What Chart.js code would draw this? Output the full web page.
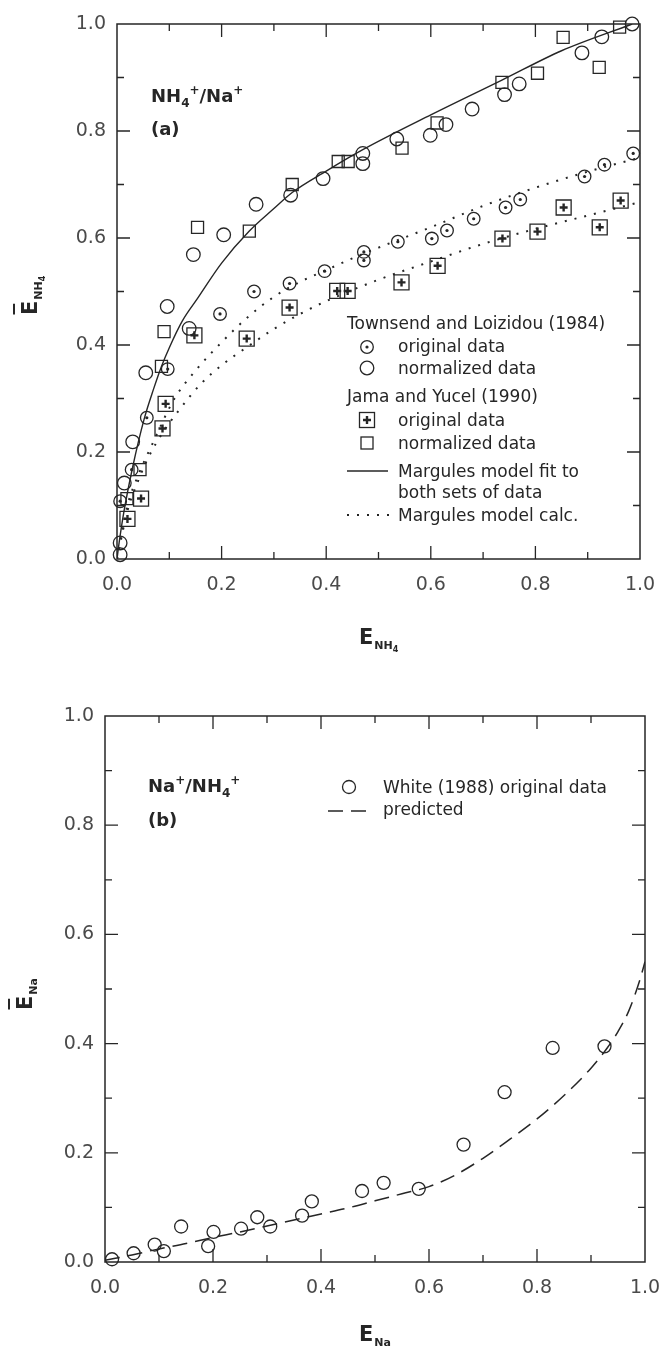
<!DOCTYPE html>
<html>
<head>
<meta charset="utf-8">
<title>NH4+/Na+ exchange isotherms</title>
<script src="https://cdn.jsdelivr.net/npm/chart.js@4.4.1/dist/chart.umd.min.js"></script>
<style>
    html, body { margin: 0; padding: 0; background: #fff; }
    #wrap { position: relative; width: 660px; height: 1349px; }
    canvas { position: absolute; left: 0; }
    #chartA { top: 0; }
    #chartB { top: 660px; }
</style>
</head>
<body>
<div id="wrap">
    <canvas id="chartA" width="660" height="660"></canvas>
    <canvas id="chartB" width="660" height="689"></canvas>
</div>
<script>
// Panel (a): NH4+/Na+
// Townsend and Loizidou (1984)
const townOrigX = [0.006, 0.028, 0.057, 0.097, 0.197, 0.262, 0.330, 0.397, 0.472, 0.472, 0.537, 0.602, 0.631, 0.682, 0.743, 0.771, 0.894, 0.932, 0.987];
const townOrigY = [0.108, 0.167, 0.264, 0.355, 0.458, 0.500, 0.515, 0.538, 0.574, 0.558, 0.593, 0.599, 0.614, 0.636, 0.657, 0.672, 0.715, 0.737, 0.758];
const townNormX = [0.006, 0.006, 0.014, 0.030, 0.055, 0.096, 0.138, 0.146, 0.204, 0.266, 0.332, 0.394, 0.470, 0.470, 0.535, 0.599, 0.629, 0.679, 0.741, 0.769, 0.889, 0.927, 0.985];
const townNormY = [0.008, 0.030, 0.142, 0.219, 0.348, 0.472, 0.431, 0.569, 0.606, 0.663, 0.680, 0.711, 0.758, 0.739, 0.785, 0.792, 0.812, 0.841, 0.868, 0.888, 0.946, 0.976, 1.000];

// Jama and Yucel (1990)
const jamaOrigX = [0.020, 0.046, 0.087, 0.093, 0.148, 0.248, 0.330, 0.421, 0.441, 0.544, 0.613, 0.737, 0.804, 0.854, 0.923, 0.963];
const jamaOrigY = [0.075, 0.113, 0.244, 0.290, 0.418, 0.412, 0.470, 0.501, 0.501, 0.517, 0.548, 0.599, 0.612, 0.657, 0.620, 0.670];
const jamaNormX = [0.019, 0.044, 0.085, 0.090, 0.154, 0.253, 0.335, 0.423, 0.442, 0.545, 0.612, 0.736, 0.804, 0.853, 0.922, 0.961];
const jamaNormY = [0.113, 0.167, 0.360, 0.425, 0.620, 0.613, 0.700, 0.743, 0.743, 0.768, 0.815, 0.891, 0.908, 0.975, 0.919, 0.994];

// Margules model fit to both sets (solid)
const fitX = [0, 0.004, 0.013, 0.030, 0.052, 0.070, 0.085, 0.100, 0.125, 0.154, 0.200, 0.253, 0.300, 0.335, 0.400, 0.470, 0.600, 0.736, 0.850, 0.985];
const fitY = [0, 0.030, 0.087, 0.172, 0.262, 0.318, 0.360, 0.395, 0.445, 0.487, 0.553, 0.613, 0.655, 0.685, 0.725, 0.765, 0.830, 0.895, 0.950, 1.000];

// Margules model calc. (dotted)
const calcTownX = [0, 0.02, 0.04, 0.07, 0.11, 0.15, 0.20, 0.25, 0.30, 0.35, 0.40, 0.45, 0.50, 0.60, 0.70, 0.80, 0.90, 1.00];
const calcTownY = [0, 0.100, 0.155, 0.220, 0.300, 0.352, 0.405, 0.452, 0.490, 0.518, 0.540, 0.562, 0.582, 0.620, 0.660, 0.694, 0.724, 0.750];
const calcJamaX = [0, 0.02, 0.04, 0.06, 0.09, 0.12, 0.16, 0.20, 0.25, 0.30, 0.35, 0.40, 0.50, 0.60, 0.70, 0.80, 0.90, 1.00];
const calcJamaY = [0, 0.090, 0.145, 0.190, 0.240, 0.280, 0.327, 0.362, 0.397, 0.430, 0.458, 0.482, 0.522, 0.556, 0.589, 0.617, 0.642, 0.667];

// Panel (b): Na+/NH4+
const whiteX = [0.013, 0.053, 0.092, 0.109, 0.141, 0.191, 0.201, 0.252, 0.282, 0.306, 0.365, 0.383, 0.476, 0.516, 0.581, 0.664, 0.740, 0.829, 0.925];
const whiteY = [0.005, 0.016, 0.032, 0.020, 0.065, 0.029, 0.055, 0.061, 0.082, 0.065, 0.085, 0.111, 0.130, 0.145, 0.134, 0.215, 0.311, 0.392, 0.395];
const predX = [0, 0.05, 0.10, 0.15, 0.20, 0.25, 0.30, 0.35, 0.40, 0.45, 0.50, 0.55, 0.60, 0.65, 0.70, 0.75, 0.80, 0.85, 0.90, 0.93, 0.95, 0.97, 0.99, 1.00];
const predY = [0.003, 0.013, 0.024, 0.034, 0.045, 0.055, 0.066, 0.077, 0.088, 0.099, 0.112, 0.125, 0.138, 0.160, 0.190, 0.225, 0.262, 0.305, 0.355, 0.392, 0.422, 0.460, 0.515, 0.550];

const tickStep = 0.2;

const ink = '#262626';
const tickInk = '#4a4a4a';
const FONT = '"DejaVu Sans", sans-serif';

const pts = (xs, ys) => xs.map((x, i) => ({ x: x, y: ys[i] }));

function marker(xs, ys, style, r, extra) {
    return Object.assign({
        data: pts(xs, ys),
        pointStyle: style,
        pointRadius: r,
        pointHoverRadius: r,
        pointBorderColor: ink,
        pointBackgroundColor: 'rgba(0,0,0,0)',
        pointBorderWidth: 1.3,
        showLine: false,
        clip: false
    }, extra || {});
}

function curve(xs, ys, dash, width) {
    return {
        data: pts(xs, ys),
        showLine: true,
        pointRadius: 0,
        borderColor: ink,
        borderWidth: width,
        borderDash: dash,
        cubicInterpolationMode: 'monotone',
        fill: false
    };
}

function axis(fitSize, isX) {
    return {
        type: 'linear',
        min: 0,
        max: 1,
        border: { display: false },
        grid: { display: false, drawTicks: false },
        ticks: {
            stepSize: tickStep,
            autoSkip: false,
            maxRotation: 0,
            padding: isX ? 15 : 11,
            color: tickInk,
            font: { family: FONT, size: 19 },
            callback: v => v.toFixed(1)
        },
        afterFit(s) {
            if (isX) s.height = fitSize; else s.width = fitSize;
            // keep the plot area fixed, labels may overhang
            s.paddingLeft = s.paddingRight = s.paddingTop = s.paddingBottom = 0;
        }
    };
}

// frame with inward ticks on all four sides
const frameTicks = {
    id: 'frameTicks',
    beforeDatasetsDraw(chart) {
        const { ctx, chartArea: a, scales: { x, y } } = chart;
        ctx.save();
        ctx.strokeStyle = ink;
        ctx.lineWidth = 1.5;
        ctx.strokeRect(a.left, a.top, a.right - a.left, a.bottom - a.top);
        ctx.lineWidth = 1.3;
        ctx.beginPath();
        for (let i = 1; i < 10; i++) {
            const len = i % 2 === 0 ? 13 : 7;
            const px = x.getPixelForValue(i / 10);
            const py = y.getPixelForValue(i / 10);
            ctx.moveTo(px, a.bottom); ctx.lineTo(px, a.bottom - len);
            ctx.moveTo(px, a.top); ctx.lineTo(px, a.top + len);
            ctx.moveTo(a.left, py); ctx.lineTo(a.left + len, py);
            ctx.moveTo(a.right, py); ctx.lineTo(a.right - len, py);
        }
        ctx.stroke();
        ctx.restore();
    }
};

// text pieces with sub/superscripts: [text, size, dy, bold]
function runText(ctx, parts, x, y) {
    let cx = x;
    parts.forEach(([t, size, dy, bold]) => {
        ctx.font = (bold ? 'bold ' : '') + size + 'px ' + FONT;
        ctx.fillText(t, cx, y + dy);
        cx += ctx.measureText(t).width;
    });
    return cx;
}

function axisTitle(ctx, sub, x, y, rotate, bar) {
    ctx.save();
    ctx.translate(x, y);
    if (rotate) ctx.rotate(-Math.PI / 2);
    ctx.fillStyle = ink;
    ctx.textAlign = 'left';
    ctx.textBaseline = 'alphabetic';
    ctx.font = 'bold 21px ' + FONT;
    const ew = ctx.measureText('E').width;
    ctx.fillText('E', 0, 0);
    if (bar) ctx.fillRect(0.5, -24, ew * 0.75, 2);
    runText(ctx, sub, ew + 1, 0);
    ctx.restore();
}

function circle(ctx, x, y, r, filled) {
    ctx.beginPath();
    ctx.arc(x, y, r, 0, Math.PI * 2);
    if (filled) ctx.fill(); else ctx.stroke();
}

const subNH4 = [['NH', 11, 5, true], ['4', 8, 8, true]];
const subNa = [['Na', 11, 5, true]];

const decorA = {
    id: 'decorA',
    afterDraw(chart) {
        const ctx = chart.ctx;
        ctx.save();
        ctx.fillStyle = ink;
        ctx.strokeStyle = ink;
        ctx.textBaseline = 'alphabetic';
        ctx.textAlign = 'left';

        // panel label
        runText(ctx, [['NH', 18, 0, true], ['4', 12, 5, true], ['+', 12, -8, true], ['/Na', 18, 0, true], ['+', 12, -8, true]], 151, 102);
        runText(ctx, [['(a)', 18, 0, true]], 151, 135);

        // legend
        ctx.font = '17px ' + FONT;
        ctx.fillText('Townsend and Loizidou (1984)', 347, 329);
        ctx.lineWidth = 1.3;
        circle(ctx, 367, 347, 6.3);
        circle(ctx, 367, 347, 1.6, true);
        ctx.fillText('original data', 398, 352);
        circle(ctx, 367, 368, 6.8);
        ctx.fillText('normalized data', 398, 374);
        ctx.fillText('Jama and Yucel (1990)', 347, 402);
        ctx.strokeRect(359.5, 412.5, 15, 15);
        ctx.lineWidth = 2.4;
        ctx.beginPath();
        ctx.moveTo(363, 420); ctx.lineTo(371, 420);
        ctx.moveTo(367, 416); ctx.lineTo(367, 424);
        ctx.stroke();
        ctx.lineWidth = 1.3;
        ctx.fillText('original data', 398, 426);
        ctx.strokeRect(361, 437, 12, 12);
        ctx.fillText('normalized data', 398, 449);
        ctx.lineWidth = 1.4;
        ctx.beginPath();
        ctx.moveTo(347, 471); ctx.lineTo(388, 471);
        ctx.stroke();
        ctx.fillText('Margules model fit to', 398, 477);
        ctx.fillText('both sets of data', 398, 498);
        ctx.lineWidth = 2;
        ctx.setLineDash([2, 8]);
        ctx.beginPath();
        ctx.moveTo(347, 515); ctx.lineTo(390, 515);
        ctx.stroke();
        ctx.setLineDash([]);
        ctx.fillText('Margules model calc.', 398, 521);
        ctx.restore();

        axisTitle(ctx, subNH4, 359, 644, false, false);
        axisTitle(ctx, subNH4, 37, 315, true, true);
    }
};

const decorB = {
    id: 'decorB',
    afterDraw(chart) {
        const ctx = chart.ctx;
        ctx.save();
        ctx.fillStyle = ink;
        ctx.strokeStyle = ink;
        ctx.textBaseline = 'alphabetic';
        ctx.textAlign = 'left';

        runText(ctx, [['Na', 18, 0, true], ['+', 12, -8, true], ['/NH', 18, 0, true], ['4', 12, 5, true], ['+', 12, -8, true]], 148, 132);
        runText(ctx, [['(b)', 18, 0, true]], 148, 166);

        ctx.font = '17px ' + FONT;
        ctx.lineWidth = 1.3;
        circle(ctx, 349, 127, 6.5);
        ctx.fillText('White (1988) original data', 383, 133);
        ctx.lineWidth = 1.5;
        ctx.setLineDash([15, 8]);
        ctx.beginPath();
        ctx.moveTo(328, 151); ctx.lineTo(372, 151);
        ctx.stroke();
        ctx.setLineDash([]);
        ctx.fillText('predicted', 383, 155);
        ctx.restore();

        axisTitle(ctx, subNa, 359, 681, false, false);
        axisTitle(ctx, subNa, 32, 350, true, true);
    }
};

function baseOptions(pad, yWidth, xHeight) {
    return {
        responsive: false,
        animation: false,
        layout: { padding: pad },
        plugins: {
            legend: { display: false },
            tooltip: { enabled: false }
        },
        scales: {
            x: axis(xHeight, true),
            y: axis(yWidth, false)
        }
    };
}

document.addEventListener('DOMContentLoaded', function () {
    // Panel (a)
    new Chart(document.getElementById('chartA'), {
        type: 'scatter',
        data: {
            datasets: [
                curve(fitX, fitY, [], 1.4),
                curve(calcTownX, calcTownY, [2, 8], 2),
                curve(calcJamaX, calcJamaY, [2, 8], 2),
                marker(townNormX, townNormY, 'circle', 6.8),
                marker(townOrigX, townOrigY, 'circle', 6.3),
                marker(townOrigX, townOrigY, 'circle', 1.6, { pointBackgroundColor: ink, pointBorderWidth: 0 }),
                marker(jamaNormX, jamaNormY, 'rect', 8.5),
                marker(jamaOrigX, jamaOrigY, 'rect', 10.6),
                marker(jamaOrigX, jamaOrigY, 'cross', 4, { pointBorderWidth: 2.4 })
            ]
        },
        options: baseOptions({ left: 0, right: 20, top: 24, bottom: 0 }, 117, 101),
        plugins: [frameTicks, decorA]
    });

    // Panel (b)
    new Chart(document.getElementById('chartB'), {
        type: 'scatter',
        data: {
            datasets: [
                curve(predX, predY, [15, 8], 1.5),
                marker(whiteX, whiteY, 'circle', 6.5)
            ]
        },
        options: baseOptions({ left: 0, right: 15, top: 56, bottom: 0 }, 105, 87),
        plugins: [frameTicks, decorB]
    });
});
</script>
</body>
</html>
